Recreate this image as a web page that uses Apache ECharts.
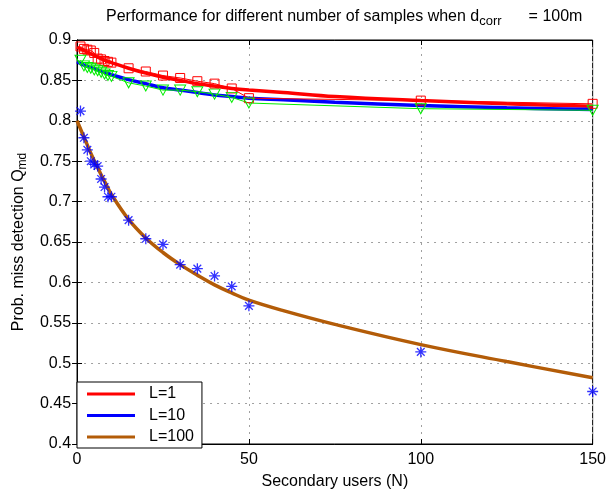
<!DOCTYPE html>
<html>
<head>
<meta charset="utf-8">
<script src="https://cdn.jsdelivr.net/npm/echarts@6/dist/echarts.min.js"></script>
<style>
  html, body { margin: 0; padding: 0; background: #fff; }
  #chart { width: 609px; height: 495px; }
</style>
</head>
<body>
<div id="chart"></div>
<script>
  // simulated points (markers)
  var nSim = [1, 2, 3, 4, 5, 6, 7, 8, 9, 10, 15, 20, 25, 30, 35, 40, 45, 50, 100, 150];
  var simL1 = [0.892, 0.889, 0.888, 0.887, 0.884, 0.877, 0.876, 0.874, 0.873, 0.872, 0.865, 0.861, 0.856, 0.853, 0.849, 0.846, 0.840, 0.828, 0.825, 0.821];
  var simL10 = [0.875, 0.868, 0.866, 0.865, 0.863, 0.862, 0.860, 0.858, 0.856, 0.855, 0.847, 0.843, 0.838, 0.838, 0.836, 0.833, 0.829, 0.822, 0.815, 0.813];
  var simL100 = [0.812, 0.779, 0.764, 0.750, 0.746, 0.744, 0.728, 0.718, 0.706, 0.706, 0.677, 0.654, 0.647, 0.622, 0.617, 0.608, 0.595, 0.571, 0.514, 0.465];

  // theory curves
  var nTheory = [0, 2, 4, 6, 8, 10, 15, 20, 25, 30, 35, 40, 45, 50, 60, 75, 100, 125, 150];
  var thL1 = [0.891, 0.887, 0.883, 0.879, 0.875, 0.872, 0.865, 0.859, 0.854, 0.850, 0.846, 0.843, 0.840, 0.838, 0.835, 0.830, 0.825, 0.821, 0.818];
  var thL10 = [0.873, 0.869, 0.866, 0.863, 0.860, 0.857, 0.851, 0.846, 0.841, 0.838, 0.835, 0.832, 0.830, 0.828, 0.826, 0.823, 0.819, 0.816, 0.814];
  var thL100 = [0.800, 0.780, 0.760, 0.742, 0.725, 0.709, 0.678, 0.655, 0.637, 0.622, 0.609, 0.597, 0.587, 0.578, 0.565, 0.548, 0.523, 0.502, 0.482];

  var legendNames = ['L=1', 'L=10', 'L=100'];

  function pairs(xs, ys) {
    return xs.map(function (x, i) { return [x, ys[i]] })
  }

  var font = 'Liberation Sans, Arial, sans-serif'
  var starPath = 'path://M5,0L5,10M0,5L10,5M1.5,1.5L8.5,8.5M8.5,1.5L1.5,8.5'

  var chart = echarts.init(document.getElementById('chart'))

  var dotted = { color: '#a0a0a0', width: 1, type: [2, 5] }

  var option = {
    backgroundColor: '#fff',
    textStyle: { fontFamily: font },
    animation: false,
    title: {
      text: '{m|Performance for different number of samples when d}{s|corr}{g| }{m|= 100m}',
      left: 106,
      top: 9,
      padding: 0,
      textStyle: {
        fontFamily: font,
        fontWeight: 'normal',
        rich: {
          m: { fontSize: 16, lineHeight: 16, verticalAlign: 'top', color: '#000', fontFamily: font, fontWeight: 'normal' },
          s: { fontSize: 13, lineHeight: 13, padding: [9, 0, 0, 0], color: '#000', fontFamily: font, fontWeight: 'normal' },
          g: { width: 27, fontSize: 13 }
        }
      }
    },
    grid: {
      left: 76,
      right: 14,
      top: 40,
      bottom: 47,
      show: true,
      borderColor: '#000',
      borderWidth: 1,
      backgroundColor: '#fff'
    },
    legend: {
      data: legendNames,
      orient: 'vertical',
      left: 77,
      top: 382,
      padding: [4, 8, 3, 10],
      icon: 'rect',
      itemGap: 5.5,
      itemWidth: 48,
      itemHeight: 3,
      backgroundColor: '#fff',
      borderColor: '#000',
      borderWidth: 1,
      borderRadius: 0,
      z: 10,
      textStyle: { fontSize: 16, lineHeight: 16, color: '#000', fontFamily: font, padding: [0, 0, 0, 9] }
    },
    xAxis: [
      {
        type: 'value',
        min: 0,
        max: 150,
        interval: 50,
        name: 'Secondary users (N)',
        nameLocation: 'middle',
        nameGap: 30,
        nameTextStyle: { fontSize: 16, color: '#000', fontFamily: font },
        axisLine: { show: true, lineStyle: { color: '#000' } },
        axisTick: { show: true, inside: true, length: 5, lineStyle: { color: '#000' } },
        axisLabel: { fontSize: 16, color: '#000', margin: 8, fontFamily: font },
        splitLine: { show: true, lineStyle: dotted }
      },
      {
        type: 'value',
        position: 'top',
        min: 0,
        max: 150,
        interval: 50,
        axisLine: { show: true, lineStyle: { color: '#000' } },
        axisTick: { show: true, inside: true, length: 5, lineStyle: { color: '#000' } },
        axisLabel: { show: false },
        splitLine: { show: false }
      }
    ],
    yAxis: [
      {
        type: 'value',
        min: 0.4,
        max: 0.9,
        interval: 0.05,
        name: '{m|Prob. miss detection Q}{s|md}',
        nameLocation: 'middle',
        nameGap: 44,
        nameTextStyle: {
          fontFamily: font,
          rich: {
            m: { fontSize: 16, lineHeight: 16, verticalAlign: 'top', color: '#000', fontFamily: font },
            s: { fontSize: 12, lineHeight: 12, padding: [9, 0, 0, 0], color: '#000', fontFamily: font }
          }
        },
        axisLine: { show: true, lineStyle: { color: '#000' } },
        axisTick: { show: true, inside: true, length: 5, lineStyle: { color: '#000' } },
        axisLabel: {
          fontSize: 16, color: '#000', margin: 6, fontFamily: font,
          formatter: function (v) { return String(+v.toFixed(2)) }
        },
        splitLine: { show: true, lineStyle: dotted }
      },
      {
        type: 'value',
        position: 'right',
        min: 0.4,
        max: 0.9,
        interval: 0.05,
        axisLine: { show: true, lineStyle: { color: '#000' } },
        axisTick: { show: true, inside: true, length: 5, lineStyle: { color: '#000' } },
        axisLabel: { show: false },
        splitLine: { show: false }
      }
    ],
    series: [
      {
        name: 'L=1',
        type: 'line',
        data: pairs(nTheory, thL1),
        smooth: 0.4,
        symbol: 'none',
        color: '#ff0000',
        itemStyle: { color: '#ff0000' },
        lineStyle: { color: '#ff0000', width: 3.5 },
        z: 3
      },
      {
        name: 'L=10',
        type: 'line',
        data: pairs(nTheory, thL10),
        smooth: 0.4,
        symbol: 'none',
        color: '#0000ff',
        itemStyle: { color: '#0000ff' },
        lineStyle: { color: '#0000ff', width: 3.5 },
        z: 3
      },
      {
        name: 'L=100',
        type: 'line',
        data: pairs(nTheory, thL100),
        smooth: 0.4,
        symbol: 'none',
        color: '#b35c08',
        itemStyle: { color: '#b35c08' },
        lineStyle: { color: '#b35c08', width: 3.5 },
        z: 3
      },
      {
        name: 'sim L=1',
        type: 'line',
        data: pairs(nSim, simL1),
        symbol: 'rect',
        symbolSize: 9,
        showAllSymbol: true,
        itemStyle: { color: 'rgba(0,0,0,0)', borderColor: '#ff0000', borderWidth: 1 },
        lineStyle: { color: '#ff0000', width: 1 },
        z: 4
      },
      {
        name: 'sim L=10',
        type: 'line',
        data: pairs(nSim, simL10),
        symbol: 'triangle',
        symbolRotate: 180,
        symbolSize: [11, 10],
        showAllSymbol: true,
        itemStyle: { color: 'rgba(0,0,0,0)', borderColor: '#00ee00', borderWidth: 1 },
        lineStyle: { color: '#00ee00', width: 1 },
        z: 4
      },
      {
        name: 'sim L=100',
        type: 'scatter',
        data: pairs(nSim, simL100),
        symbol: starPath,
        symbolSize: 11,
        itemStyle: { color: 'rgba(0,0,0,0)', borderColor: '#0000ff', borderWidth: 1.3 },
        z: 4
      }
    ]
  };
  chart.setOption(option)
</script>
</body>
</html>
